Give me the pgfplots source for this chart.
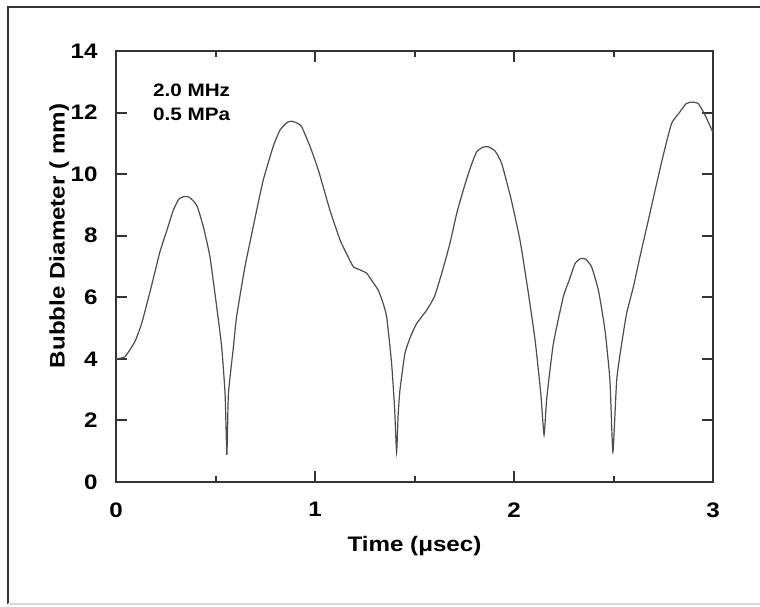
\documentclass[border=0pt]{standalone}
\usepackage{fontspec}
\setmainfont{Liberation Sans}[FakeStretch=1.15]
\usepackage{pgfplots}
\pgfplotsset{compat=1.18}

\pgfplotstableread{
t D
0.000 4.00
0.045 4.07
0.095 4.56
0.129 5.15
0.171 6.18
0.221 7.48
0.258 8.22
0.288 8.83
0.315 9.18
0.340 9.27
0.365 9.26
0.390 9.12
0.409 8.94
0.439 8.29
0.472 7.32
0.506 5.69
0.531 4.39
0.548 2.88
0.554 1.50
0.557 0.88
0.560 1.50
0.565 2.88
0.590 4.39
0.606 5.37
0.648 6.99
0.707 8.83
0.740 9.81
0.790 10.90
0.824 11.43
0.860 11.68
0.883 11.72
0.910 11.66
0.933 11.54
0.975 10.90
1.017 10.13
1.075 8.83
1.126 7.86
1.160 7.40
1.193 6.99
1.230 6.88
1.260 6.78
1.290 6.50
1.318 6.23
1.340 5.85
1.360 5.37
1.385 3.85
1.400 2.40
1.410 0.98
1.418 2.20
1.427 2.99
1.452 4.18
1.480 4.72
1.511 5.15
1.561 5.58
1.600 6.02
1.640 6.85
1.678 7.75
1.712 8.72
1.745 9.48
1.780 10.20
1.812 10.72
1.845 10.88
1.871 10.89
1.905 10.75
1.938 10.35
1.985 9.20
2.030 7.86
2.070 6.23
2.106 4.61
2.135 2.85
2.151 1.53
2.165 2.75
2.198 4.50
2.248 6.02
2.280 6.60
2.307 7.10
2.335 7.26
2.360 7.24
2.390 6.99
2.425 6.20
2.457 4.94
2.482 3.31
2.497 0.98
2.516 3.31
2.540 4.45
2.566 5.48
2.600 6.34
2.633 7.32
2.675 8.50
2.717 9.70
2.755 10.75
2.792 11.65
2.830 11.99
2.865 12.29
2.895 12.34
2.926 12.29
2.960 11.92
3.000 11.35
}\bubble

\begin{document}
\begin{tikzpicture}
\begin{axis}[
    scale only axis,
    width=298.5pt, height=215.5pt,
    xmin=0, xmax=3, ymin=0, ymax=14,
    xtick={0,1,2,3},
    minor xtick={0.5,1.5,2.5},
    ytick={0,2,...,14},
    tick align=inside,
    major tick length=5.5pt,
    minor tick length=3pt,
    axis line style={black!80, line width=1pt},
    every tick/.style={black!80, line width=1pt},
    /pgf/number format/assume math mode=true,
    tick label style={font=\fontsize{10.5}{12}\selectfont\bfseries, inner sep=0pt},
    xticklabel style={anchor=north, yshift=-10pt},
    yticklabel style={anchor=east, xshift=-9pt},
    label style={font=\fontsize{10.5}{12}\selectfont\bfseries, inner sep=0pt},
    xlabel={Time (μsec)},
    xlabel style={at={(axis description cs:0.5,-0.124)}, anchor=north},
    ylabel={Bubble Diameter ( mm)},
    ylabel style={at={(axis description cs:-0.078,0.571)}, anchor=south},
    clip=false,
]
\addplot[black!70, line width=0.6pt, no marks, smooth, tension=0.3] table[x=t, y=D] {\bubble};
\node[anchor=base west, inner sep=0pt, font=\fontsize{9}{11}\selectfont\bfseries] at (axis cs:0.184,12.51) {2.0 MHz};
\node[anchor=base west, inner sep=0pt, font=\fontsize{9}{11}\selectfont\bfseries] at (axis cs:0.184,11.75) {0.5 MPa};
\end{axis}
\begin{scope}[shift={(current axis.south west)}]
\useasboundingbox (-58pt,-62pt) rectangle (322pt,241pt);
\draw[black!80, line width=0.9pt] (-54pt,-61pt) -- (-54pt,237.5pt) -- (330pt,237.5pt);
\draw[black!15, line width=0.75pt] (-54pt,-61pt) -- (330pt,-61pt);
\end{scope}
\end{tikzpicture}
\end{document}
